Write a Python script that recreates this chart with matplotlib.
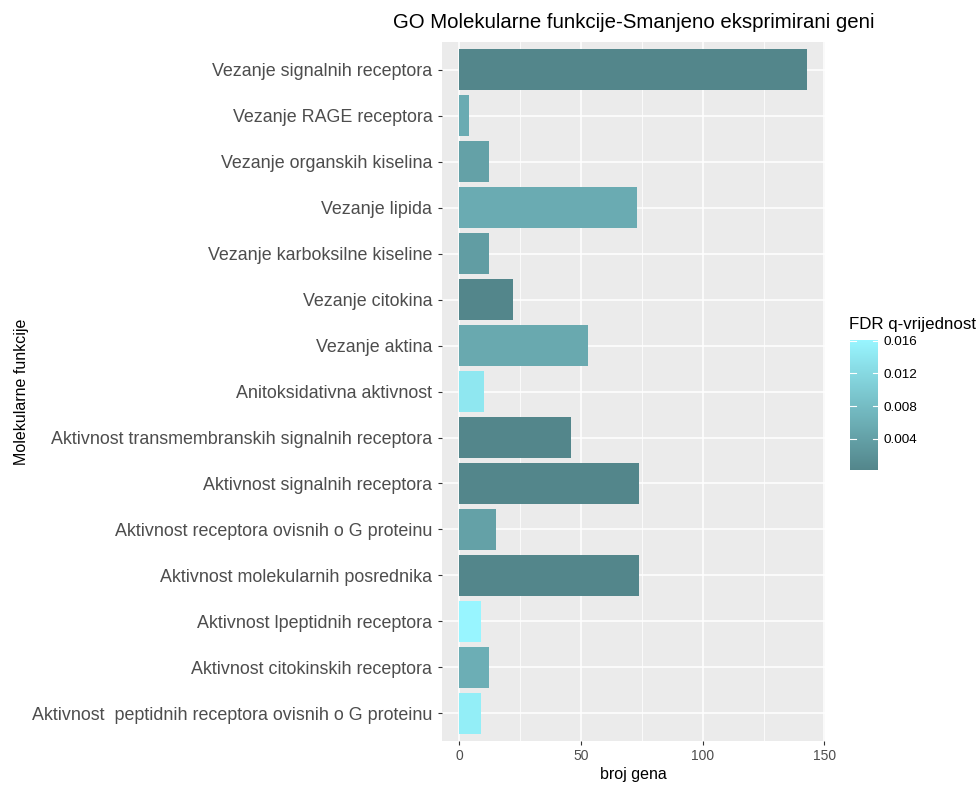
import matplotlib.pyplot as plt
import matplotlib as mpl
from matplotlib.colors import LinearSegmentedColormap, Normalize

plt.rcParams['font.family'] = ['Liberation Sans', 'DejaVu Sans']

# categories from top to bottom
categories = [
    'Vezanje signalnih receptora',
    'Vezanje RAGE receptora',
    'Vezanje organskih kiselina',
    'Vezanje lipida',
    'Vezanje karboksilne kiseline',
    'Vezanje citokina',
    'Vezanje aktina',
    'Anitoksidativna aktivnost',
    'Aktivnost transmembranskih signalnih receptora',
    'Aktivnost signalnih receptora',
    'Aktivnost receptora ovisnih o G proteinu',
    'Aktivnost molekularnih posrednika',
    'Aktivnost lpeptidnih receptora',
    'Aktivnost citokinskih receptora',
    'Aktivnost  peptidnih receptora ovisnih o G proteinu',
]
broj_gena = [143, 4, 12, 73, 12, 22, 53, 10, 46, 74, 15, 74, 9, 12, 9]
fdr = [0.0003, 0.0055, 0.0040, 0.0055, 0.0035, 0.0003, 0.0052, 0.0140,
       0.0003, 0.0003, 0.0040, 0.0003, 0.0161, 0.0060, 0.0150]

fdr_min, fdr_max = 0.0002, 0.0161
cbar_ticks = [0.004, 0.008, 0.012, 0.016]

cmap = LinearSegmentedColormap.from_list('cadet', ['#53868B', '#98F5FF'])
norm = Normalize(vmin=fdr_min, vmax=fdr_max)

fig = plt.figure(figsize=(9.79, 7.87), dpi=100)
ax = fig.add_axes([0.4515, 0.0585, 0.391, 0.888])
ax.set_facecolor('#EBEBEB')

n = len(categories)
ypos = list(range(n - 1, -1, -1))
ax.barh(ypos, broj_gena, height=0.9, color=cmap(norm(fdr)), zorder=3)

ax.set_xlim(-7.15, 150.15)
ax.set_ylim(-0.6, n - 0.4)
ax.set_xticks([0, 50, 100, 150])
ax.set_xticks([25, 75, 125], minor=True)
ax.set_yticks(ypos)
ax.set_yticklabels(categories)
ax.grid(which='major', color='white', linewidth=1.1, zorder=1)
ax.grid(which='minor', axis='x', color='white', linewidth=0.55, zorder=1)
for s in ax.spines.values():
    s.set_visible(False)
ax.tick_params(axis='y', labelsize=12.9, labelcolor='#4D4D4D', color='#333333',
               length=3, width=0.8, pad=4)
ax.tick_params(axis='x', labelsize=10, labelcolor='#4D4D4D', color='#333333',
               length=3, width=0.8, pad=3)
ax.tick_params(which='minor', length=0)

ax.set_xlabel('broj gena', fontsize=11.5, labelpad=3)
ax.set_ylabel('Molekularne funkcije', fontsize=11.5)
ax.yaxis.set_label_coords(-1.08, 0.5)
fig.text(0.647, 0.972, 'GO Molekularne funkcije-Smanjeno eksprimirani geni',
         ha='center', va='center', fontsize=14.7)

cax = fig.add_axes([0.8685, 0.403, 0.0286, 0.165])
cb = fig.colorbar(mpl.cm.ScalarMappable(norm=norm, cmap=cmap), cax=cax,
                  ticks=cbar_ticks)
cb.outline.set_visible(False)
cb.ax.set_yticklabels(['0.004', '0.008', '0.012', '0.016'])
cb.ax.tick_params(length=0, labelsize=9.7, pad=4)
for t in cbar_ticks:
    cb.ax.plot([0, 0.2], [t, t], color='white', lw=0.8)
    cb.ax.plot([0.8, 1], [t, t], color='white', lw=0.8)
fig.text(0.867, 0.588, 'FDR q-vrijednost', fontsize=12.2, ha='left', va='center')

fig.savefig('out.png', dpi=100)
